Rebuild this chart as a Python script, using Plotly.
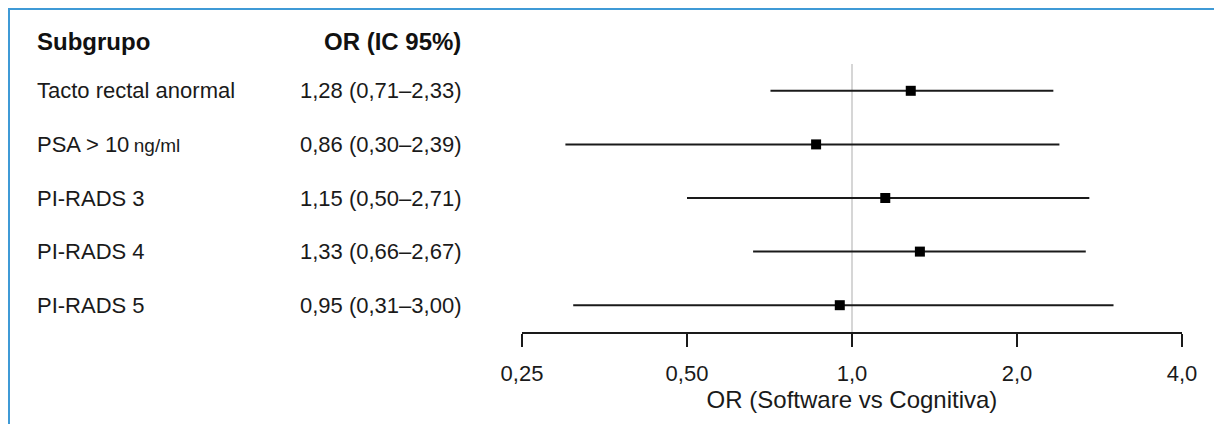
import plotly.graph_objects as go

# ---- data ----
subgroups = ["Tacto rectal anormal",
             "PSA > 10\u2009<span style='font-size:19px'>ng/ml</span>",
             "PI-RADS 3", "PI-RADS 4", "PI-RADS 5"]
or_vals = [1.28, 0.86, 1.15, 1.33, 0.95]
ci_low = [0.71, 0.30, 0.50, 0.66, 0.31]
ci_high = [2.33, 2.39, 2.71, 2.67, 3.00]
tick_vals = [0.25, 0.5, 1, 2, 4]
tick_text = ["0,25", "0,50", "1,0", "2,0", "4,0"]
header_left = "Subgrupo"
header_right = "OR (IC 95%)"
x_title = "OR (Software vs Cognitiva)"

# page has an 8px body margin on every side; keep the figure inside the window
OFF = 8
W, H = 1222 - 2 * OFF, 432 - 2 * OFF
FONT = "Liberation Sans, Arial, Helvetica, sans-serif"
FS = 22
TXT = "#1a1a1a"

def px(x):   # window x pixel -> paper x
    return (x - OFF) / W

def py(y):   # window y pixel -> paper y
    return (H - (y - OFF)) / H

n = len(subgroups)
ypos = [n - i for i in range(n)]  # top row highest

def fmt(v):
    return f"{v:.2f}".replace(".", ",")

or_text = [f"{fmt(o)} ({fmt(l)}\u2013{fmt(h)})" for o, l, h in zip(or_vals, ci_low, ci_high)]

fig = go.Figure()
fig.add_trace(go.Scatter(
    x=or_vals, y=ypos, mode="markers",
    marker=dict(symbol="square", size=10, color="black"),
    error_x=dict(type="data", symmetric=False,
                 array=[h - o for o, h in zip(or_vals, ci_high)],
                 arrayminus=[o - l for o, l in zip(or_vals, ci_low)],
                 color=TXT, thickness=2, width=0),
    hoverinfo="skip", showlegend=False,
))

# reference line at OR = 1
fig.add_shape(type="line", xref="x", yref="paper", x0=1, x1=1,
              y0=py(332), y1=py(64),
              line=dict(color="#c8c8c8", width=1.5), layer="below")

# left text columns
ann = []
for y, s, t in zip(ypos, subgroups, or_text):
    ann.append(dict(x=px(35), xref="paper", y=y, yref="y", text=s, showarrow=False,
                    xanchor="left", yanchor="middle", font=dict(size=FS, color=TXT, family=FONT)))
    ann.append(dict(x=px(463), xref="paper", y=y, yref="y", text=t, showarrow=False,
                    xanchor="right", yanchor="middle", font=dict(size=FS, color=TXT, family=FONT)))
ann.append(dict(x=px(35), xref="paper", y=py(41), yref="paper", text=f"<b>{header_left}</b>",
                showarrow=False, xanchor="left", yanchor="middle",
                font=dict(size=24, color="#111", family=FONT)))
ann.append(dict(x=px(463), xref="paper", y=py(41), yref="paper", text=f"<b>{header_right}</b>",
                showarrow=False, xanchor="right", yanchor="middle",
                font=dict(size=24, color="#111", family=FONT)))

# blue frame: only the left and top edges are visible
FRAME = "#3f9ad6"
fig.add_shape(type="line", xref="paper", yref="paper", x0=1 / W, x1=1 / W, y0=0, y1=(H - 1) / H,
              line=dict(color=FRAME, width=2), layer="above")
fig.add_shape(type="line", xref="paper", yref="paper", x0=0, x1=1, y0=(H - 1) / H, y1=(H - 1) / H,
              line=dict(color=FRAME, width=2), layer="above")

fig.update_layout(
    width=W, height=H,
    margin=dict(l=0, r=0, t=0, b=0),
    paper_bgcolor="white", plot_bgcolor="white",
    font=dict(family=FONT, size=FS, color=TXT),
    annotations=ann,
    xaxis=dict(type="log", range=[-0.60206, 0.60206],
               domain=[px(522), px(1182)],
               tickvals=tick_vals, ticktext=tick_text,
               showline=True, linecolor=TXT, linewidth=1.5,
               ticks="outside", ticklen=13, tickwidth=1.5, tickcolor=TXT,
               ticklabelstandoff=8,
               showgrid=False, zeroline=False,
               tickfont=dict(size=FS, family=FONT, color=TXT),
               title=dict(text=x_title, font=dict(size=24, family=FONT, color=TXT), standoff=6),
               automargin=False),
    yaxis=dict(range=[0.5, n + 0.5], domain=[py(332), py(64)],
               visible=False, showgrid=False, zeroline=False, fixedrange=True),
)

fig.write_html("out.html")
